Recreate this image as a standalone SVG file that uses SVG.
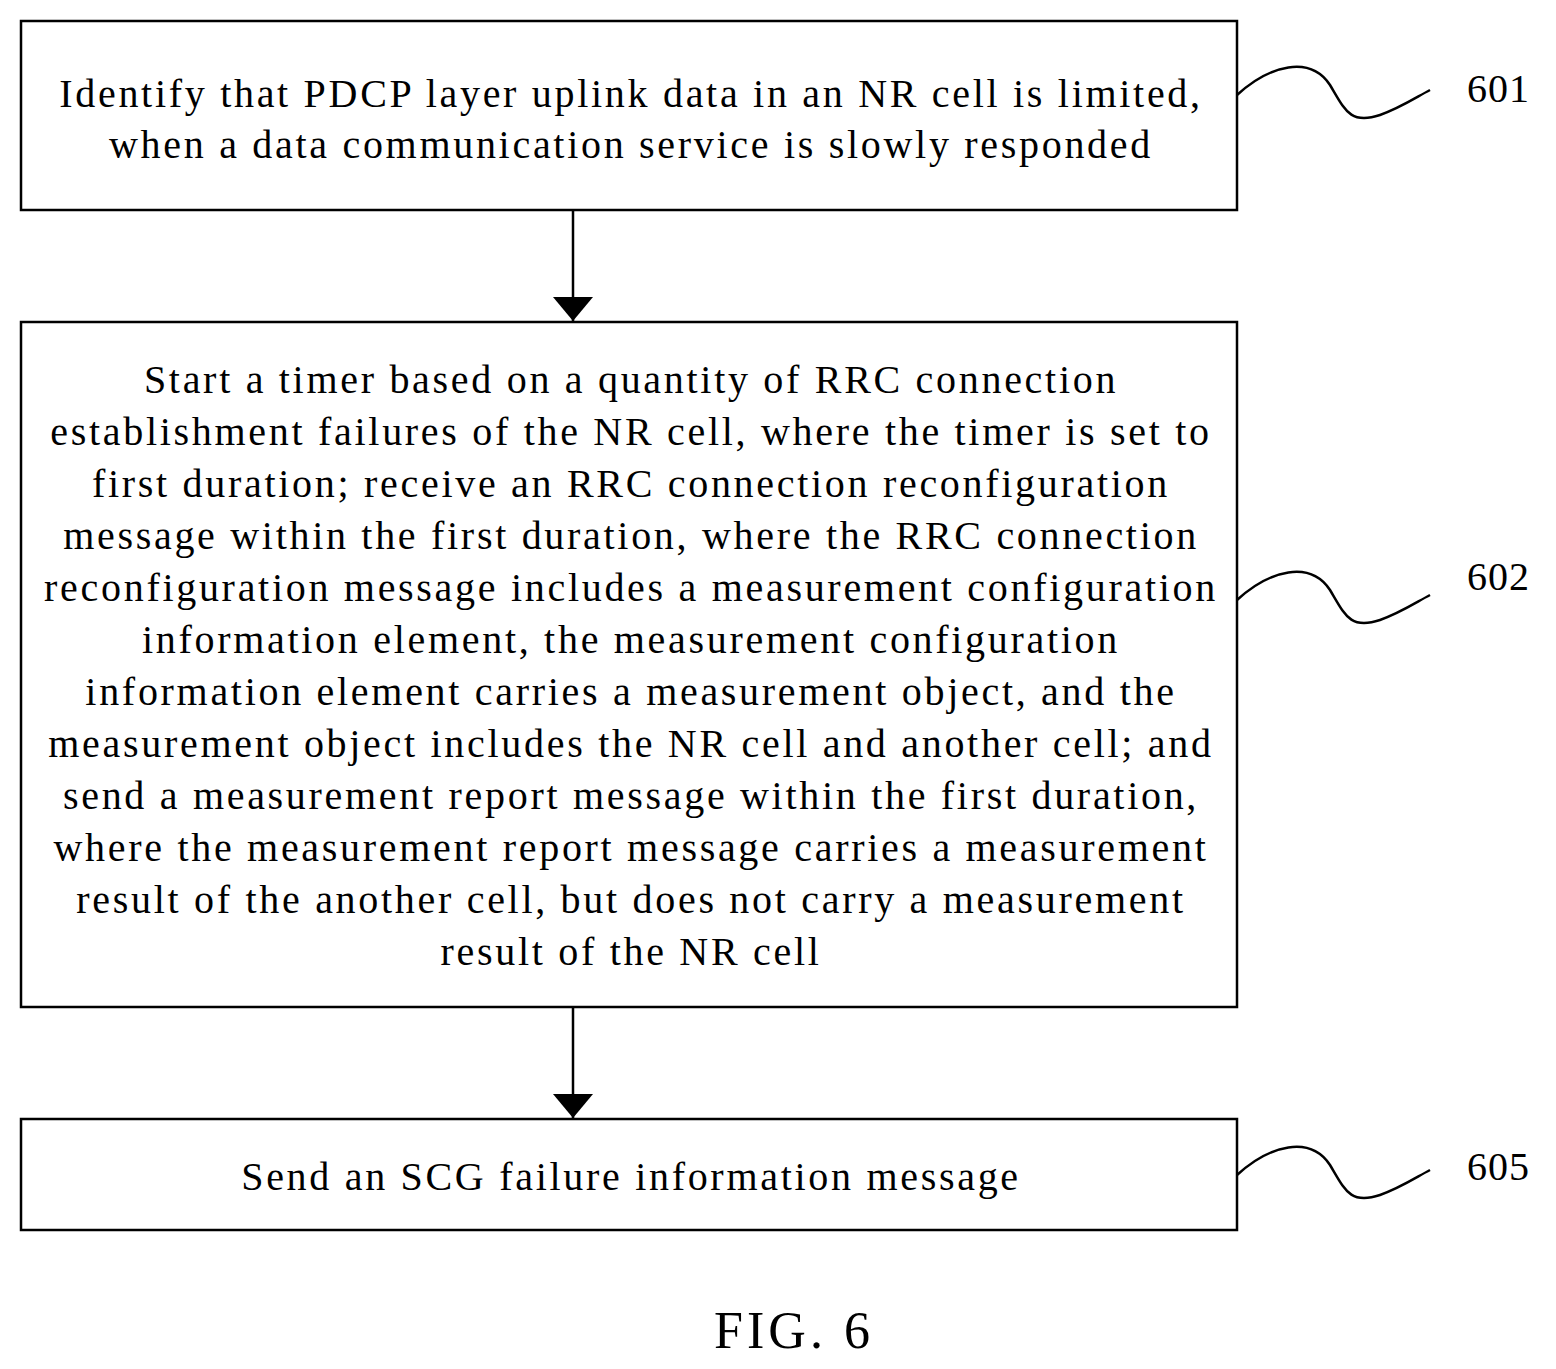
<svg xmlns="http://www.w3.org/2000/svg" width="1556" height="1369" viewBox="0 0 1556 1369">
<style>
.b{fill:#fff;stroke:#000;stroke-width:2.5}
.t{font-family:"Liberation Serif",serif;font-size:40px;text-anchor:middle;fill:#000;letter-spacing:2.7px}
.l{font-family:"Liberation Serif",serif;font-size:40px;fill:#000;letter-spacing:1px}
.c{fill:none;stroke:#000;stroke-width:2.5}
</style>
<defs>
<marker id="ah" viewBox="0 0 24 40" refX="24" refY="20" markerWidth="24" markerHeight="40" orient="auto" markerUnits="userSpaceOnUse"><path d="M0,0 L24,20 L0,40z" fill="#000"/></marker></defs>
<g id="n601"><rect class="b" x="21" y="21" width="1216" height="189"/>
<text class="t" x="631" y="107">Identify that PDCP layer uplink data in an NR cell is limited,</text>
<text class="t" x="631" y="158">when a data communication service is slowly responded</text>
<path class="c" d="M1237,95 C1270,65 1310,55 1330,85 C1345,110 1350,125 1380,115 C1400,108 1415,98 1430,90"/>
<text class="l" x="1467" y="102">601</text></g>
<g id="n602"><rect class="b" x="21" y="322" width="1216" height="685"/>
<text class="t" x="631" y="393">Start a timer based on a quantity of RRC connection</text>
<text class="t" x="631" y="445">establishment failures of the NR cell, where the timer is set to</text>
<text class="t" x="631" y="497">first duration; receive an RRC connection reconfiguration</text>
<text class="t" x="631" y="549">message within the first duration, where the RRC connection</text>
<text class="t" x="631" y="601">reconfiguration message includes a measurement configuration</text>
<text class="t" x="631" y="653">information element, the measurement configuration</text>
<text class="t" x="631" y="705">information element carries a measurement object, and the</text>
<text class="t" x="631" y="757">measurement object includes the NR cell and another cell; and</text>
<text class="t" x="631" y="809">send a measurement report message within the first duration,</text>
<text class="t" x="631" y="861">where the measurement report message carries a measurement</text>
<text class="t" x="631" y="913">result of the another cell, but does not carry a measurement</text>
<text class="t" x="631" y="965">result of the NR cell</text>
<path class="c" d="M1237,600 C1270,570 1310,560 1330,590 C1345,615 1350,630 1380,620 C1400,613 1415,603 1430,595"/>
<text class="l" x="1467" y="590">602</text></g>
<g id="n605"><rect class="b" x="21" y="1119" width="1216" height="111"/>
<text class="t" x="631" y="1190">Send an SCG failure information message</text>
<path class="c" d="M1237,1175 C1270,1145 1310,1135 1330,1165 C1345,1190 1350,1205 1380,1195 C1400,1188 1415,1178 1430,1170"/>
<text class="l" x="1467" y="1180">605</text></g>
<g id="connectors">
<line class="c" x1="573" y1="210" x2="573" y2="321" marker-end="url(#ah)"/>
<line class="c" x1="573" y1="1007" x2="573" y2="1118" marker-end="url(#ah)"/>
</g>
<text class="t" x="794" y="1348" style="font-size:52px;letter-spacing:4px">FIG. 6</text>
</svg>
